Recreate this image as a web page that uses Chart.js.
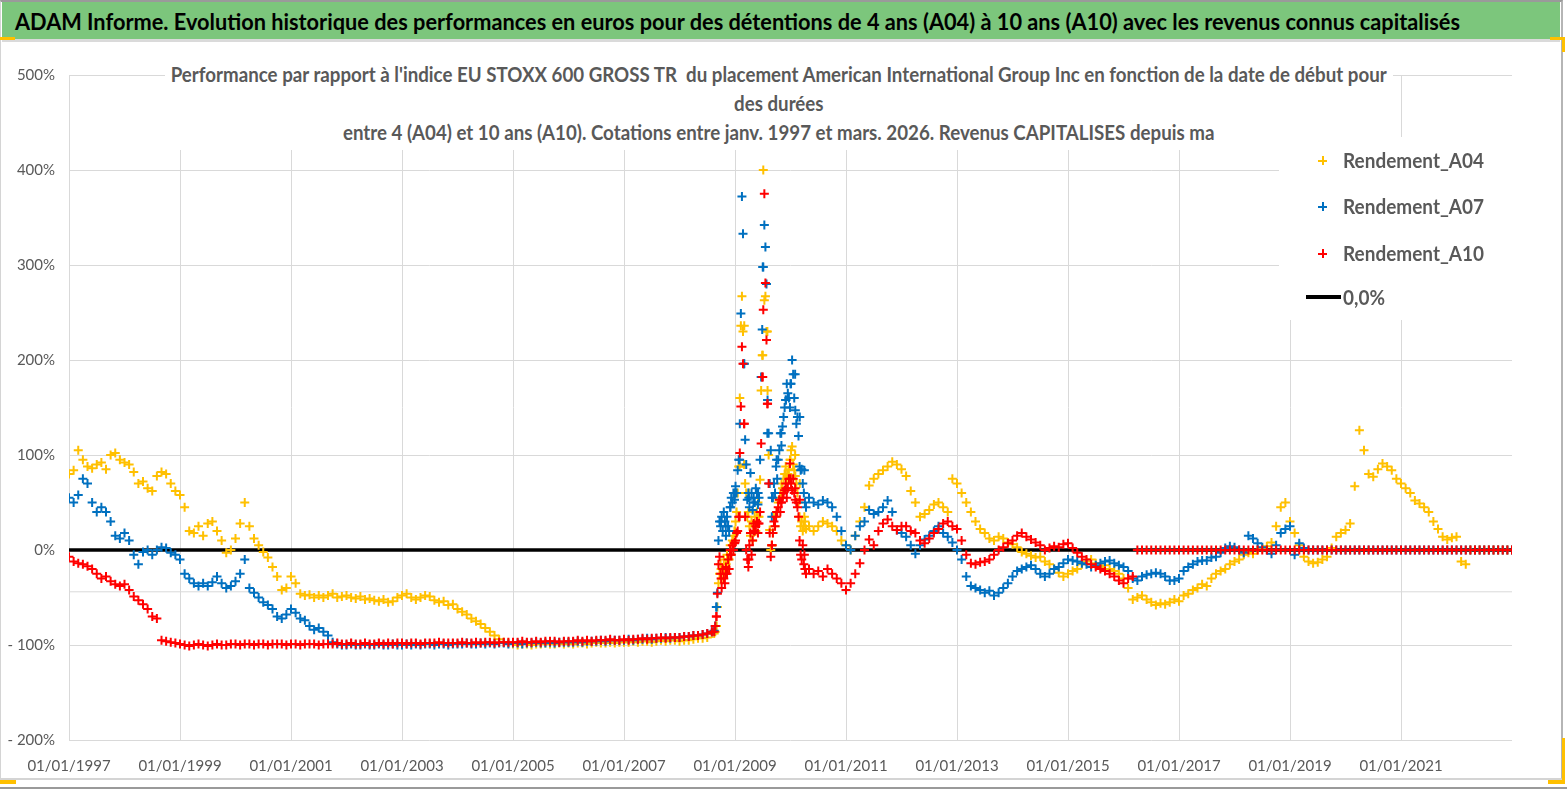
<!DOCTYPE html>
<html lang="fr">
<head>
<meta charset="utf-8">
<title>ADAM Informe - American International Group Inc</title>
<script src="https://cdn.jsdelivr.net/npm/chart.js@4.4.1/dist/chart.umd.min.js"></script>
<style>
  html, body { margin: 0; padding: 0; background: #fff; }
  body { width: 1567px; height: 790px; position: relative; overflow: hidden; font-family: Lato, "Open Sans", sans-serif; }
  #wrap { position: absolute; left: 0; top: 0; width: 1567px; height: 790px; }
  #frame { position: absolute; left: 0; top: 0; width: 1560px; height: 776px; border-top: 2px solid #9a9a9a; border-right: 2px solid #b5b5b5; border-bottom: 2px solid #d4d4d4; border-left: 1px solid #d4d4d4; pointer-events: none; }
  #outer { position: absolute; left: 0; top: 787px; width: 1567px; height: 2px; background: #9a9a9a; }
  #header { position: absolute; left: 2px; top: 2px; width: 1558px; height: 37px; background: #7cc67c; border-bottom: 3px solid #dadada; }
  #header span { position: absolute; left: 13px; top: 3px; font-weight: bold; font-size: 23px; line-height: 32px; color: #000; white-space: nowrap; transform-origin: left center; }
  #title { position: absolute; left: 165px; top: 60px; width: 1228px; height: 90px; background: #fff; text-align: center; color: #595959; font-weight: bold; font-size: 20px; line-height: 29px; }
  #title div { white-space: pre; margin: 0 -150px; }
  #title span { display: inline-block; transform-origin: center center; }
  #legend { position: absolute; left: 1279px; top: 137px; width: 262px; height: 183px; background: #fff; color: #595959; font-weight: bold; font-size: 20px; }
  #legend .item { position: absolute; left: 0; width: 262px; height: 30px; line-height: 30px; }
  #legend .lbl { position: absolute; left: 64px; top: 0; white-space: nowrap; transform-origin: left center; }
  #legend .plus { position: absolute; left: 39px; top: 11px; width: 9px; height: 9px; }
  #legend .plus::before { content: ''; position: absolute; left: 4px; top: 0; width: 1.6px; height: 9px; background: currentColor; }
  #legend .plus::after { content: ''; position: absolute; left: 0; top: 4px; width: 9px; height: 1.6px; background: currentColor; }
  #legend .line { position: absolute; left: 27px; top: 13px; width: 35px; height: 4px; background: #000; }
  .corner { position: absolute; background: #ffc000; }
</style>
</head>
<body>
<div id="wrap"><canvas id="perfChart"></canvas></div>
<div id="frame"></div>
<div id="outer"></div>
<div id="header"><span id="headText">ADAM Informe. Evolution historique des performances en euros pour des détentions de 4 ans (A04) à 10 ans (A10) avec les revenus connus capitalisés</span></div>
<div id="title">
  <div><span id="t1">Performance par rapport à l'indice EU STOXX 600 GROSS TR  du placement American International Group Inc en fonction de la date de début pour</span></div>
  <div><span id="t2">des durées</span></div>
  <div><span id="t3">entre 4 (A04) et 10 ans (A10). Cotations entre janv. 1997 et mars. 2026. Revenus CAPITALISES depuis ma</span></div>
</div>
<div id="legend">
  <div class="item" style="top:8px"><span class="plus" style="color:#ffc000"></span><span class="lbl">Rendement_A04</span></div>
  <div class="item" style="top:54px"><span class="plus" style="color:#0070c0"></span><span class="lbl">Rendement_A07</span></div>
  <div class="item" style="top:101px"><span class="plus" style="color:#ff0000"></span><span class="lbl">Rendement_A10</span></div>
  <div class="item" style="top:145px"><span class="line"></span><span class="lbl">0,0%</span></div>
</div>
<div class="corner" style="left:0;top:37px;width:15px;height:3px"></div>
<div class="corner" style="left:1550px;top:37px;width:15px;height:3px"></div>
<div class="corner" style="left:1562px;top:37px;width:3px;height:15px"></div>
<div class="corner" style="left:0;top:780px;width:16px;height:4px"></div>
<div class="corner" style="left:1548px;top:780px;width:17px;height:4px"></div>
<div class="corner" style="left:1562px;top:738px;width:3px;height:46px"></div>

<script>
// Relative performance (%) vs EU STOXX 600 GROSS TR, one value per month from 01/1997 to 01/2023
const startYear = 1997;
const rendA04 = [
  80, 84, 105, 95, 88, 86, 90, 92, 85, 100, 102, 95,          // 1997
  92, 90, 82, 70, 72, 65, 62, 78, 82, 80, 70, 62,             // 1998
  58, 45, 20, 18, 25, 15, 28, 30, 20, 10, -3, 0,              // 1999
  12, 28, 50, 25, 12, 5, -2, -8, -18, -28, -42, -40,          // 2000
  -28, -35, -46, -48, -47, -50, -48, -50, -48, -46, -50, -49, // 2001
  -48, -50, -51, -49, -52, -51, -53, -54, -52, -55, -54, -50, // 2002
  -48, -46, -50, -52, -50, -48, -49, -53, -55, -54, -58, -57, // 2003
  -62, -65, -68, -72, -75, -78, -82, -86, -90, -94, -97, -98, // 2004
  -99, -100, -99, -99, -100, -99, -99, -98, -99, -99, -98, -99, // 2005
  -98, -99, -98, -98, -99, -98, -97, -98, -98, -97, -98, -97, // 2006
  -97, -97, -96, -97, -96, -96, -97, -96, -95, -96, -95, -95, // 2007
  -96, -95, -95, -94, -93, -93, -92, -88, -80, -20, -15, -5,  // 2008
  20, 88, 236, 60, 25, 35, 205, 230, 5, 40, 55, 80,           // 2009
  95, 100, 70, 35, 25, 20, 25, 30, 28, 25, 20, 10,            // 2010
  5, 0, 15, 30, 45, 68, 75, 80, 84, 88, 93, 90,               // 2011
  85, 78, 62, 50, 35, 38, 42, 48, 50, 45, 40, 75,             // 2012
  70, 60, 50, 40, 30, 22, 18, 12, 10, 14, 12, 8,              // 2013
  6, 3, -2, -4, -6, -8, -7, -12, -15, -20, -24, -28,          // 2014
  -25, -22, -20, -15, -12, -10, -14, -18, -16, -20, -22, -25, // 2015
  -30, -40, -52, -50, -48, -52, -55, -58, -56, -57, -55, -52, // 2016
  -54, -48, -46, -42, -40, -36, -38, -30, -25, -22, -20, -15, // 2017
  -12, -10, -5, -3, -4, 0, 2, 4, 8, 25, 45, 50,               // 2018
  30, 18, 5, -7, -12, -14, -13, -10, -7, 2, 14, 18,           // 2019
  21, 28, 67, 126, 105, 80, 77, 85, 91, 88, 84, 75,           // 2020
  70, 65, 60, 52, 49, 45, 40, 30, 22, 14, 11, 13,             // 2021
  14, -12, -15, 0, 0, 0, 0, 0, 0, 0, 0, 0,                    // 2022
  0                                                           // 2023
];
const rendA07 = [
  55, 50, 58, 75, 70, 50, 40, 45, 40, 30, 15, 12,             // 1997
  18, 10, -5, -15, -2, 0, -5, 0, 3, 2, -3, -5,                // 1998
  -10, -25, -30, -35, -38, -35, -38, -34, -28, -35, -40, -38, // 1999
  -33, -25, -10, -40, -45, -50, -55, -58, -62, -70, -72, -68, // 2000
  -62, -66, -72, -74, -80, -84, -82, -86, -90, -97, -99, -100, // 2001
  -100, -99, -100, -100, -99, -100, -100, -99, -100, -100, -99, -100, // 2002
  -100, -99, -100, -99, -100, -99, -99, -100, -99, -99, -100, -99,   // 2003
  -99, -99, -98, -99, -99, -98, -99, -98, -99, -98, -98, -99, // 2004
  -98, -98, -99, -98, -98, -97, -98, -98, -97, -98, -97, -97, // 2005
  -97, -97, -96, -97, -96, -96, -96, -95, -96, -95, -95, -95, // 2006
  -95, -94, -95, -94, -94, -93, -94, -93, -93, -92, -93, -92, // 2007
  -92, -91, -91, -90, -90, -89, -88, -86, -60, 30, 25, 45,    // 2008
  60, 95, 196, 55, 50, 60, 298, 123, 55, 95, 123, 158,        // 2009
  175, 185, 140, 84, 55, 50, 48, 52, 50, 45, 35, 20,          // 2010
  5, 0, 15, 25, 30, 42, 38, 40, 45, 52, 40, 21,               // 2011
  18, 14, 5, -4, 5, 11, 15, 20, 25, 18, 14, 8,                // 2012
  0, -10, -28, -38, -40, -42, -45, -43, -48, -45, -40, -35,   // 2013
  -28, -22, -20, -18, -16, -20, -25, -28, -25, -20, -18, -14, // 2014
  -10, -11, -12, -14, -15, -18, -16, -14, -12, -11, -14, -16, // 2015
  -18, -22, -30, -32, -28, -26, -25, -24, -25, -28, -32, -32, // 2016
  -30, -22, -18, -15, -12, -11, -11, -8, -7, -3, 2, 4,        // 2017
  3, 0, -3, 15, 12, 7, 3, 0, -4, 5, 18, 22,                   // 2018
  25, -5, 7, 2, 0, 0, 0, 0, 0, 0, 0, 0,                       // 2019
  0, 0, 0, 0, 0, 0, 0, 0, 0, 0, 0, 0,                         // 2020
  0, 0, 0, 0, 0, 0, 0, 0, 0, 0, 0, 0,                         // 2021
  0, 0, 0, 0, 0, 0, 0, 0, 0, 0, 0, 0,                         // 2022
  0                                                           // 2023
];
const rendA10 = [
  -7, -12, -14, -15, -17, -20, -25, -30, -28, -33, -36, -38,  // 1997
  -36, -42, -49, -53, -57, -62, -70, -72, -95, -96, -97, -98, // 1998
  -99, -100, -101, -100, -99, -100, -101, -100, -99, -100, -100, -99, // 1999
  -99, -100, -99, -99, -100, -99, -99, -100, -99, -99, -99, -100,     // 2000
  -99, -99, -100, -99, -99, -99, -100, -99, -99, -99, -98, -99,      // 2001
  -99, -98, -99, -99, -98, -99, -99, -98, -99, -98, -99, -98, // 2002
  -98, -99, -98, -98, -99, -98, -98, -98, -97, -98, -98, -98, // 2003
  -98, -97, -98, -98, -97, -98, -97, -97, -98, -97, -97, -97, // 2004
  -97, -97, -96, -97, -97, -96, -97, -96, -96, -96, -97, -96, // 2005
  -96, -96, -95, -96, -95, -96, -95, -95, -95, -94, -95, -95, // 2006
  -94, -95, -94, -94, -93, -94, -93, -93, -92, -93, -92, -92, // 2007
  -92, -91, -91, -90, -90, -89, -88, -86, -70, -30, -25, -5,  // 2008
  8, 35, 133, -10, 20, 28, 182, 154, 5, 40, 50, 65,           // 2009
  75, 65, 53, -5, -20, -25, -22, -28, -20, -25, -30, -35,     // 2010
  -42, -35, -25, -14, 0, 11, 5, 20, 28, 32, 25, 21,           // 2011
  25, 25, 20, 18, 10, 7, 12, 18, 22, 28, 30, 25,              // 2012
  22, 10, -5, -14, -15, -13, -12, -10, -5, 0, 3, 7,           // 2013
  10, 15, 18, 14, 11, 8, 5, 0, 2, 4, 3, 6,                    // 2014
  7, 2, -3, -7, -10, -15, -18, -20, -22, -25, -28, -32,       // 2015
  -35, -30, -28, 0, 0, 0, 0, 0, 0, 0, 0, 0,                   // 2016
  0, 0, 0, 0, 0, 0, 0, 0, 0, 0, 0, 0,                         // 2017
  0, 0, 0, 0, 0, 0, 0, 0, 0, 0, 0, 0,                         // 2018
  0, 0, 0, 0, 0, 0, 0, 0, 0, 0, 0, 0,                         // 2019
  0, 0, 0, 0, 0, 0, 0, 0, 0, 0, 0, 0,                         // 2020
  0, 0, 0, 0, 0, 0, 0, 0, 0, 0, 0, 0,                         // 2021
  0, 0, 0, 0, 0, 0, 0, 0, 0, 0, 0, 0,                         // 2022
  0                                                           // 2023
];

// crise 2008-2010 : une valeur par semaine a partir de mi-aout 2008
const weekStart = 2008.625;
const weekA04 = [
  -88, -86, -80, -60, -35, -25, -15, -30, -20, -10, -25, -15, -5, -20, -10, 5, -5, 10, 15, 20,
  30, 40, 60, 88, 160, 236, 267, 230, 90, 70, 60, 35, 40, 25, 15, 30, 10, 25, 35, 20,
  40, 50, 35, 74, 168, 205, 400, 263, 267, 230, 168, 100, 21, 0, 5, 18, 35, 25, 35, 40,
  50, 53, 60, 70, 65, 75, 80, 88, 75, 80, 85, 95, 105, 109, 90, 84, 78, 70, 60, 50,
  35, 25, 30, 20, 25, 30, 22
];
const weekA07 = [
  -85, -80, -60, -45, 10, 30, 25, 35, 20, 40, 30, 15, 35, 25, 20, 45, 55, 50, 60, 53,
  67, 60, 84, 95, 133, 249, 372, 333, 196, 116, 90, 53, 60, 45, 81, 60, 42, 55, 50, 65,
  60, 48, 55, 95, 182, 232, 298, 342, 319, 280, 158, 123, 70, 105, 35, 55, 70, 60, 88, 75,
  95, 105, 123, 110, 130, 140, 150, 158, 175, 165, 160, 150, 175, 200, 185, 160, 147, 133, 140, 120,
  88, 84, 85, 70, 60, 50, 45
];
const weekA10 = [
  -86, -80, -70, -46, -15, -7, -25, -40, -20, -30, -35, -18, -25, -10, -20, 0, -5, 5, 0, 7,
  10, 18, 20, 35, 102, 151, 214, 196, 133, 35, 0, -10, -18, 5, 18, -5, 10, 28, 20, 25,
  30, 18, 28, 40, 112, 182, 253, 375, 281, 221, 154, 70, 18, -7, 5, 18, 30, 25, 35, 40,
  45, 53, 40, 50, 55, 60, 63, 70, 55, 65, 75, 91, 70, 63, 75, 60, 53, 50, 45, 35,
  10, -5, -10, 5, -15, -20, -25
];

const seriesNames = ['Rendement_A04', 'Rendement_A07', 'Rendement_A10'];
const seriesColors = ['#ffc000', '#0070c0', '#ff0000'];
const zeroLevel = 0;
const midGridLevel = -44;
const xTicks = [1997, 1999, 2001, 2003, 2005, 2007, 2009, 2011, 2013, 2015, 2017, 2019, 2021];
const xMin = 1997, xMax = 2023;

function toPoints(monthly, weekly) {
  const pts = monthly.map((v, i) => ({ x: startYear + i / 12, y: v }));
  weekly.forEach((v, k) => pts.push({ x: weekStart + k / 52, y: v }));
  return pts;
}

const monthlySets = [rendA04, rendA07, rendA10];
const weeklySets = [weekA04, weekA07, weekA10];
const drawOrder = [3, 2, 1]; // rouge au-dessus, puis bleu, puis jaune

const datasets = seriesNames.map((name, i) => ({
  type: 'scatter',
  label: name,
  data: toPoints(monthlySets[i], weeklySets[i]),
  pointStyle: 'cross',
  pointRadius: 4.5,
  pointBorderWidth: 2,
  borderColor: seriesColors[i],
  backgroundColor: seriesColors[i],
  order: drawOrder[i]
}));

datasets.push({
  type: 'line',
  label: '0,0%',
  data: [{ x: xMin, y: zeroLevel }, { x: xMax, y: zeroLevel }],
  borderColor: '#000',
  borderWidth: 3.5,
  pointRadius: 0,
  order: 4
});
datasets.push({
  type: 'line',
  label: '',
  data: [{ x: xMin, y: midGridLevel }, { x: xMax, y: midGridLevel }],
  borderColor: '#d9d9d9',
  borderWidth: 1,
  pointRadius: 0,
  order: 5
});

const tickFont = { family: 'Lato', size: 15 };

new Chart(document.getElementById('perfChart'), {
  data: { datasets: datasets },
  options: {
    responsive: true,
    maintainAspectRatio: false,
    animation: false,
    layout: { padding: { top: 75, right: 55, left: 0, bottom: 0 } },
    plugins: {
      legend: { display: false },
      title: { display: false },
      tooltip: { enabled: false }
    },
    scales: {
      x: {
        type: 'linear',
        min: xMin,
        max: xMax,
        afterBuildTicks: s => { s.ticks = xTicks.map(v => ({ value: v })); },
        afterFit: s => { s.height = 50; },
        ticks: {
          autoSkip: false, maxRotation: 0, padding: 17,
          color: '#595959', font: tickFont,
          callback: v => '01/01/' + v
        },
        grid: { color: '#d9d9d9', lineWidth: 1, drawTicks: false },
        border: { display: false }
      },
      y: {
        min: -200,
        max: 500,
        afterFit: s => { s.width = 69; },
        ticks: {
          stepSize: 100, padding: 14,
          color: '#595959', font: tickFont,
          callback: v => v < 0 ? '- ' + (-v) + '%' : v + '%'
        },
        grid: { color: '#d9d9d9', lineWidth: 1, drawTicks: false },
        border: { display: false }
      }
    }
  }
});

// ajuste la largeur des textes a celle du modele
function fitWidth(el, target) {
  const w = el.getBoundingClientRect().width;
  if (w > 0) el.style.transform = 'scaleX(' + (target / w) + ')';
}
function fitAll() {
  fitWidth(document.getElementById('headText'), 1445);
  const t1 = document.getElementById('t1');
  const k = 1216 / t1.getBoundingClientRect().width;
  ['t1', 't2', 't3'].forEach(id => { document.getElementById(id).style.transform = 'scaleX(' + k + ')'; });
  const lblW = document.querySelector('#legend .lbl').getBoundingClientRect().width;
  document.querySelectorAll('#legend .lbl').forEach(el => {
    el.style.transform = 'scaleX(' + (141 / lblW) + ')';
  });
}
fitAll();
</script>
</body>
</html>
